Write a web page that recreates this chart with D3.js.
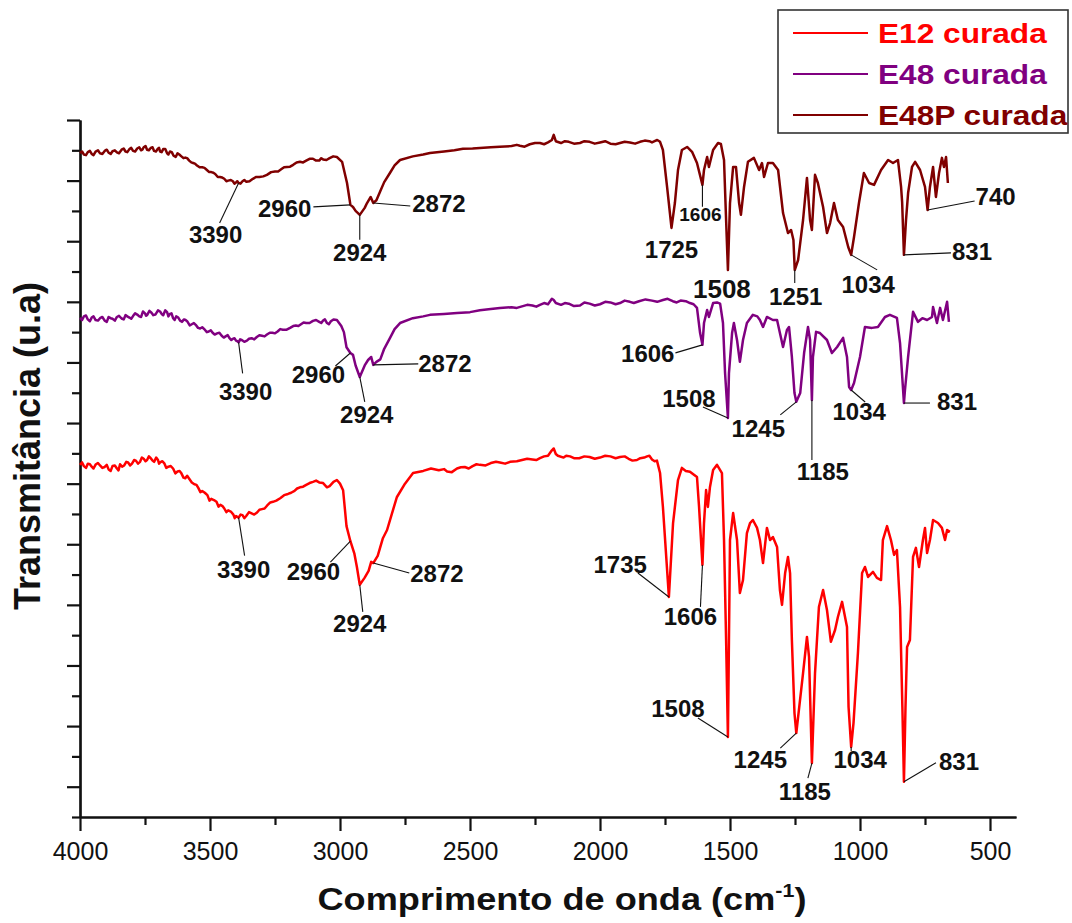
<!DOCTYPE html>
<html>
<head>
<meta charset="utf-8">
<script src="https://cdn.jsdelivr.net/npm/d3@7"></script>
<style>
  body { margin: 0; background: #fff; }
  svg { display: block; }
</style>
</head>
<body>
<svg id="chart" width="1072" height="923"></svg>
<script>
// FTIR spectra of the cured resins: [wavenumber (cm-1), transmittance (u.a)]
const e12 = [
  [4000,11.62],[3985,11.58],[3970,11.66],[3955,11.56],[3940,11.63],[3923,11.60],[3905,11.55],[3890,11.47],
  [3875,11.58],[3858,11.50],[3846,11.64],[3830,11.60],[3815,11.70],[3800,11.66],[3785,11.76],[3769,11.72],
  [3755,11.82],[3742,11.78],[3728,11.84],[3715,11.72],[3700,11.78],[3692,11.70],[3675,11.66],[3660,11.56],
  [3642,11.50],[3625,11.40],[3610,11.34],[3595,11.18],[3580,11.16],[3560,10.98],[3545,10.86],[3530,10.76],
  [3510,10.62],[3495,10.50],[3475,10.40],[3460,10.30],[3445,10.18],[3430,10.12],[3410,9.98],[3400,9.93],
  [3390,9.88],[3375,9.96],[3360,9.94],[3340,10.02],[3319,10.05],[3300,10.16],[3280,10.28],[3258,10.40],
  [3230,10.52],[3200,10.66],[3175,10.76],[3154,10.88],[3130,10.96],[3104,11.06],[3080,11.04],[3065,11.02],
  [3050,10.88],[3040,10.92],[3025,11.06],[3012,11.12],[3000,11.00],[2988,10.78],[2975,9.60],[2960,9.10],
  [2945,8.70],[2935,8.25],[2924,7.66],[2905,7.90],[2890,8.12],[2880,8.42],[2872,8.38],[2855,8.62],
  [2835,9.20],[2819,9.47],[2800,10.02],[2781,10.56],[2750,11.00],[2719,11.35],[2680,11.42],[2650,11.50],
  [2620,11.44],[2588,11.40],[2550,11.50],[2520,11.55],[2490,11.58],[2462,11.62],[2420,11.68],[2385,11.70],
  [2346,11.72],[2300,11.78],[2260,11.80],[2231,11.84],[2200,11.92],[2185,12.10],[2178,12.16],[2170,11.98],
  [2162,11.92],[2140,11.86],[2115,11.90],[2080,11.84],[2040,11.88],[2000,11.86],[1960,11.90],[1923,11.88],
  [1890,11.82],[1858,11.78],[1830,11.86],[1819,11.90],[1800,11.80],[1781,11.76],[1769,11.35],[1758,10.23],
  [1735,7.26],[1719,9.70],[1700,11.12],[1685,11.52],[1670,11.42],[1654,11.39],[1640,11.30],[1627,11.22],
  [1619,10.23],[1606,8.32],[1600,9.70],[1592,10.79],[1585,10.23],[1577,10.89],[1565,11.45],[1550,11.62],
  [1531,11.35],[1523,9.14],[1515,5.84],[1508,2.64],[1504,5.84],[1500,9.14],[1488,10.03],[1473,9.14],
  [1462,7.39],[1450,7.82],[1435,9.37],[1423,9.70],[1412,9.80],[1396,9.54],[1385,9.14],[1373,8.38],
  [1358,9.54],[1346,9.14],[1335,9.24],[1319,8.91],[1308,7.49],[1300,7.00],[1288,8.05],[1277,8.58],
  [1269,8.05],[1262,5.84],[1252,3.43],[1245,2.77],[1219,4.75],[1204,5.94],[1196,5.28],[1185,1.78],
  [1173,4.75],[1158,6.93],[1142,7.49],[1127,6.83],[1112,5.78],[1096,6.17],[1085,6.60],[1069,7.10],
  [1050,6.27],[1044,3.63],[1034,2.31],[1025,3.10],[1008,5.41],[992,8.05],[981,8.25],[969,7.92],
  [950,8.09],[935,7.89],[919,7.82],[912,9.14],[896,9.60],[881,9.14],[869,8.65],[858,8.81],
  [846,6.93],[837,3.63],[831,1.16],[825,3.63],[819,5.61],[808,5.84],[796,8.58],[785,8.88],
  [773,8.25],[758,9.14],[750,9.54],[742,8.71],[731,9.14],[719,9.80],[700,9.70],[685,9.54],
  [673,9.14],[665,9.47],[654,9.41]
];
// finer readings of the noisy O-H / baseline regions
const e12Detail = [
  [3992,11.70],[3977,11.52],[3962,11.64],[3948,11.50],[3931,11.68],[3914,11.52],[3897,11.62],[3882,11.42],
  [3866,11.60],[3852,11.44],[3838,11.56],[3822,11.72],[3807,11.60],[3792,11.78],[3777,11.66],[3762,11.86],
  [3748,11.74],[3735,11.90],[3721,11.76],[3707,11.86],[3696,11.66],[3683,11.74],[3668,11.52],[3651,11.58],
  [3633,11.34],[3617,11.42],[3602,11.20],[3588,11.26],[3570,11.04],[3552,10.96],[3537,10.72],[3520,10.70],
  [3502,10.44],[3485,10.46],[3467,10.24],[3452,10.26],[3437,10.06],[3420,10.08],[3405,9.86],[3382,9.98],
  [3368,9.86],[3350,10.06],[3330,9.98],[3310,10.14],[3290,10.18],[3268,10.38],[3245,10.44],[3215,10.62],
  [3188,10.70],[3165,10.84],[3142,10.90],[3117,11.02],[3092,11.10],
  [2600,11.48],[2570,11.38],[2535,11.54],[2505,11.50],[2475,11.64],[2440,11.60],[2400,11.72],[2365,11.66],
  [2320,11.74],[2280,11.82],[2245,11.78],[2215,11.90],[2130,11.92],[2100,11.84],[2060,11.90],[2020,11.82],
  [1980,11.92],[1940,11.84],[1905,11.90],[1875,11.76],[1845,11.84],[1810,11.92],[1790,11.74]
];

const e48 = [
  [4000,16.47],[3985,16.52],[3970,16.42],[3955,16.48],[3940,16.40],[3923,16.46],[3905,16.38],[3890,16.50],
  [3875,16.44],[3858,16.50],[3840,16.45],[3825,16.56],[3810,16.48],[3796,16.53],[3780,16.58],[3765,16.50],
  [3750,16.62],[3742,16.56],[3725,16.64],[3710,16.58],[3692,16.68],[3680,16.56],[3665,16.66],[3654,16.60],
  [3642,16.46],[3630,16.52],[3615,16.38],[3600,16.42],[3588,16.36],[3570,16.26],[3555,16.24],[3538,16.12],
  [3520,16.08],[3505,16.02],[3490,15.98],[3473,15.96],[3455,15.88],[3440,15.86],[3425,15.80],[3412,15.78],
  [3400,15.72],[3390,15.66],[3378,15.74],[3358,15.72],[3340,15.80],[3320,15.84],[3300,15.88],[3281,15.92],
  [3260,15.98],[3240,16.02],[3220,16.08],[3192,16.14],[3170,16.22],[3150,16.26],[3130,16.30],[3104,16.37],
  [3080,16.34],[3065,16.38],[3050,16.30],[3035,16.36],[3012,16.40],[2995,16.20],[2985,16.00],[2975,15.50],
  [2960,15.31],[2950,15.25],[2940,14.90],[2924,14.52],[2905,14.90],[2892,15.08],[2880,15.18],[2872,14.92],
  [2860,15.02],[2845,15.10],[2830,15.45],[2808,15.80],[2790,16.10],[2769,16.30],[2720,16.46],[2680,16.52],
  [2654,16.57],[2600,16.60],[2550,16.63],[2500,16.66],[2462,16.72],[2420,16.76],[2385,16.80],[2340,16.82],
  [2300,16.85],[2260,16.88],[2231,16.90],[2200,16.92],[2185,17.10],[2178,17.06],[2170,16.96],[2150,16.90],
  [2120,16.94],[2077,16.88],[2040,16.94],[2000,16.92],[1960,16.98],[1923,16.96],[1885,17.00],[1850,17.02],
  [1800,17.04],[1758,17.06],[1720,17.02],[1690,17.04],[1654,16.96],[1640,16.92],[1627,16.80],[1615,15.97],
  [1606,15.58],[1600,16.30],[1588,16.73],[1581,16.50],[1565,16.96],[1550,16.98],[1538,16.94],[1527,16.30],
  [1519,14.65],[1508,13.17],[1504,14.65],[1492,15.97],[1485,16.30],[1473,15.74],[1462,15.02],[1450,15.74],
  [1435,16.30],[1412,16.57],[1395,16.52],[1385,16.40],[1373,16.17],[1358,16.50],[1335,16.40],[1319,16.40],
  [1308,15.97],[1296,15.51],[1281,16.07],[1273,16.17],[1262,15.18],[1252,13.99],[1245,13.70],[1230,13.99],
  [1215,15.31],[1200,16.17],[1192,15.74],[1185,13.76],[1181,15.18],[1169,16.01],[1154,15.97],[1127,15.74],
  [1108,15.31],[1088,15.51],[1065,15.81],[1050,15.18],[1042,14.19],[1034,14.09],[1023,14.32],[1000,15.18],
  [981,16.17],[954,16.14],[931,16.17],[904,16.50],[885,16.57],[858,16.47],[846,15.64],[831,13.66],
  [827,14.09],[815,15.18],[796,16.67],[777,16.34],[760,16.46],[742,16.40],[723,16.50],[719,16.83],
  [704,16.30],[692,16.80],[681,16.40],[665,17.00],[658,16.34]
];
const e48Detail = [
  [3992,16.40],[3977,16.55],[3962,16.36],[3948,16.52],[3931,16.38],[3914,16.50],[3897,16.34],[3882,16.46],
  [3866,16.38],[3850,16.54],[3832,16.42],[3818,16.52],[3803,16.44],[3788,16.62],[3772,16.52],[3758,16.68],
  [3746,16.54],[3733,16.70],[3718,16.56],[3700,16.72],[3686,16.60],[3672,16.72],[3660,16.52],[3648,16.62],
  [3636,16.40],[3622,16.48],[3608,16.34],[3594,16.40],[3578,16.22],[3562,16.30],[3546,16.14],[3530,16.16],
  [3512,16.00],[3497,16.06],[3482,15.92],[3464,15.98],[3447,15.82],[3432,15.90],[3418,15.74],[3406,15.80],
  [3395,15.70],[3384,15.76],[3368,15.68],[3350,15.78],[3330,15.76],[3310,15.90],[3290,15.86],[3270,15.98],
  [3250,15.96],[3230,16.10],[3205,16.08],[3180,16.20],[3160,16.20],[3140,16.32],[3117,16.30],[3092,16.40],
  [3072,16.30],[3058,16.42],[3043,16.26],[3025,16.42],
  [2320,16.80],[2280,16.90],[2245,16.84],[2215,16.96],[2135,16.96],[2100,16.86],[2060,16.98],[2020,16.88],
  [1980,17.00],[1940,16.92],[1905,17.04],[1870,16.96],[1825,17.08],[1780,17.00],[1740,17.10],[1705,16.98],
  [1670,17.02]
];

const e48p = [
  [4000,21.91],[3985,21.86],[3970,21.94],[3955,21.88],[3940,21.96],[3923,21.90],[3905,21.98],[3890,21.92],
  [3875,21.97],[3858,21.93],[3840,22.02],[3825,21.96],[3810,22.04],[3796,21.98],[3780,22.06],[3765,22.00],
  [3755,22.10],[3742,22.02],[3728,22.08],[3715,21.98],[3700,22.06],[3692,21.96],[3680,22.04],[3665,21.90],
  [3654,21.96],[3640,21.82],[3625,21.90],[3610,21.80],[3595,21.76],[3580,21.66],[3565,21.58],[3550,21.50],
  [3530,21.44],[3512,21.35],[3495,21.28],[3480,21.22],[3462,21.12],[3445,21.06],[3430,21.00],[3412,20.98],
  [3400,20.94],[3390,20.92],[3375,20.98],[3360,20.96],[3335,21.06],[3310,21.12],[3281,21.19],[3250,21.30],
  [3225,21.38],[3204,21.45],[3180,21.52],[3154,21.62],[3130,21.66],[3104,21.72],[3080,21.66],[3065,21.70],
  [3040,21.74],[3012,21.78],[2992,21.62],[2973,20.92],[2960,20.20],[2950,20.13],[2940,20.00],[2924,19.87],
  [2905,20.10],[2896,20.26],[2882,20.46],[2872,20.26],[2860,20.35],[2846,20.63],[2830,20.95],[2808,21.25],
  [2790,21.50],[2769,21.68],[2720,21.80],[2680,21.86],[2654,21.91],[2600,21.96],[2560,22.00],[2527,22.05],
  [2490,22.06],[2462,22.08],[2420,22.10],[2385,22.12],[2340,22.14],[2308,22.15],[2270,22.20],[2231,22.24],
  [2200,22.26],[2185,22.34],[2178,22.51],[2170,22.30],[2150,22.24],[2120,22.28],[2077,22.24],[2040,22.28],
  [2000,22.26],[1960,22.22],[1923,22.24],[1885,22.26],[1846,22.28],[1810,22.30],[1790,22.30],[1769,22.28],
  [1758,22.01],[1742,20.79],[1725,19.44],[1712,20.26],[1700,21.35],[1685,22.01],[1665,22.11],[1646,21.95],
  [1627,21.58],[1606,20.86],[1600,21.35],[1588,21.78],[1581,21.45],[1565,22.01],[1546,22.24],[1535,22.21],
  [1523,21.68],[1515,19.70],[1508,18.05],[1500,20.26],[1488,21.45],[1477,21.45],[1465,20.26],[1458,19.87],
  [1446,20.79],[1431,21.62],[1408,21.75],[1388,21.35],[1377,21.58],[1369,21.12],[1354,21.58],[1335,21.58],
  [1315,21.35],[1296,19.93],[1277,19.27],[1265,19.37],[1256,19.04],[1251,18.05],[1238,18.38],[1219,19.70],
  [1204,21.09],[1192,19.70],[1185,19.37],[1173,21.19],[1162,20.92],[1142,20.13],[1127,19.27],[1115,19.60],
  [1100,20.26],[1085,19.70],[1065,19.47],[1045,18.80],[1034,18.55],[1023,19.14],[1004,20.26],[985,21.25],
  [965,20.92],[946,20.86],[919,21.35],[892,21.68],[873,21.58],[854,21.68],[842,20.79],[838,20.30],
  [831,18.55],[823,19.70],[815,20.59],[800,21.45],[788,21.62],[769,21.35],[750,20.79],[740,20.03],
  [731,20.79],[719,21.45],[708,20.46],[696,21.25],[685,21.75],[677,21.45],[669,21.78],[662,20.92]
];
const e48pDetail = [
  [3992,21.96],[3977,21.84],[3962,21.98],[3948,21.84],[3931,22.00],[3914,21.88],[3897,22.02],[3882,21.88],
  [3866,22.00],[3850,21.90],[3832,22.06],[3818,21.94],[3803,22.08],[3788,21.96],[3772,22.10],[3760,22.02],
  [3748,22.14],[3735,22.00],[3721,22.10],[3708,21.96],[3696,22.08],[3686,21.94],[3672,22.04],[3660,21.86],
  [3647,21.94],[3632,21.78],[3618,21.86],[3602,21.74],[3588,21.74],[3572,21.60],[3558,21.56],[3540,21.44],
  [3521,21.42],[3503,21.28],[3487,21.26],[3470,21.12],[3453,21.10],[3437,20.98],[3420,21.02],[3406,20.90],
  [3395,20.98],[3383,20.90],[3368,21.02],[3348,20.98],[3322,21.12],[3295,21.14],[3265,21.28],[3238,21.30],
  [3215,21.44],[3192,21.46],[3167,21.60],[3142,21.60],[3117,21.72],[3092,21.66],[3072,21.74],[3052,21.68],
  [3026,21.80],
  [2320,22.18],[2290,22.12],[2250,22.24],[2215,22.20],[2135,22.30],[2100,22.22],[2060,22.30],[2020,22.22],
  [1980,22.30],[1940,22.20],[1905,22.28],[1865,22.22],[1828,22.32],[1800,22.26],[1780,22.34]
];

// Assigned bands (cm-1) for each spectrum
const e12Peaks  = [3390, 2960, 2924, 2872, 1735, 1606, 1508, 1245, 1185, 1034, 831];
const e48Peaks  = [3390, 2960, 2924, 2872, 1606, 1508, 1245, 1185, 1034, 831];
const e48pPeaks = [3390, 2960, 2924, 2872, 1725, 1606, 1508, 1251, 1034, 831, 740];

const seriesNames = ["E12 curada", "E48 curada", "E48P curada"];
const xMajorTicks = [4000, 3500, 3000, 2500, 2000, 1500, 1000, 500];
const xMinorTicks = [3750, 3250, 2750, 2250, 1750, 1250, 750];

// ---- layout ----
const colors = ["#ff0000", "#800080", "#800000"];
const FONT = "'Liberation Sans', Arial, Helvetica, sans-serif";

// Callout placement: [line dx, line dy, text dx, text dy, anchor, font size] relative to the band minimum
const callouts = {
  e12: {
    3390: [6, 38, 5, 60, "middle"], 2960: [-20, 21, -37, 39, "middle"], 2924: [3, 27, 0, 47, "middle"],
    2872: [36, 10, 37, 19, "start"], 1735: [-31, -24, -22, -24, "end"], 1606: [-2, 42, -12, 60, "middle"],
    1508: [-30, -19, -50, -20, "middle"], 1245: [-16, 15, -36, 35, "middle"], 1185: [-4, 15, -7, 37, "middle"],
    1034: [0, 4, 9, 21, "middle"], 831: [32, -19, 35, -12, "start"]
  },
  e48: {
    3390: [4, 31, 7, 58, "middle"], 2960: [-15, 13, -32, 30, "middle"], 2924: [5, 25, 7, 46, "middle"],
    2872: [45, -1, 45, 7, "start"], 1606: [-27, 8, -28, 17, "end"], 1508: [-25, -11, -39, -11, "middle"],
    1245: [-16, 13, -38, 35, "middle"], 1185: [0, 60, 11, 80, "middle"], 1034: [14, 12, 8, 30, "middle"],
    831: [26, 0, 33, 7, "start"]
  },
  e48p: {
    3390: [-19, 40, -23, 60, "middle"], 2960: [-37, 2, -39, 12, "end"], 2924: [0, 25, 0, 46, "middle"],
    2872: [37, 3, 39, 9, "start"], 1725: [null, null, 0, 30, "middle"], 1606: [0, 22, -2, 36, "middle", 19],
    1508: [null, null, -6, 28, "middle", 26], 1251: [0, 13, 1, 35, "middle"], 1034: [26, 15, 17, 38, "middle"],
    831: [47, -2, 48, 5, "start"], 740: [47, -9, 48, -5, "start"]
  }
};

const svg = d3.select("#chart");

const x = d3.scaleLinear().domain([4000, 400]).range([80, 1016]);
const y = d3.scaleLinear().domain([0, 23]).range([817, 120]);

// ---- axes ----
const axisStyle = g => {
  g.selectAll("path.domain").attr("stroke", "#111").attr("stroke-width", 2.2);
  g.selectAll(".tick line").attr("stroke", "#111").attr("stroke-width", 2.2);
};

svg.append("g")
  .attr("transform", "translate(0,817)")
  .call(d3.axisBottom(x).tickValues(xMinorTicks).tickSize(8).tickSizeOuter(0).tickFormat(""))
  .call(axisStyle);

svg.append("g")
  .attr("transform", "translate(0,817)")
  .call(d3.axisBottom(x).tickValues(xMajorTicks).tickSize(14).tickSizeOuter(0).tickPadding(11).tickFormat(d3.format("d")))
  .call(axisStyle)
  .call(g => g.selectAll(".tick text")
    .attr("font-family", FONT).attr("font-size", 25).attr("fill", "#111"));

const yMajor = d3.range(1, 24, 2);
const yMinor = d3.range(0, 23, 2);

svg.append("g")
  .attr("transform", "translate(80,0)")
  .call(d3.axisLeft(y).tickValues(yMinor).tickSize(8).tickSizeOuter(0).tickFormat(""))
  .call(axisStyle);

svg.append("g")
  .attr("transform", "translate(80,0)")
  .call(d3.axisLeft(y).tickValues(yMajor).tickSize(13).tickSizeOuter(0).tickFormat(""))
  .call(axisStyle);

// ---- axis titles ----
const xTitle = svg.append("text")
  .attr("transform", "translate(562,910) scale(1.13,1)")
  .attr("text-anchor", "middle")
  .attr("font-family", FONT).attr("font-weight", "bold").attr("font-size", 32)
  .attr("fill", "#111");
xTitle.append("tspan").text("Comprimento de onda (cm");
xTitle.append("tspan").attr("font-size", 19).attr("dy", -13).text("-1");
xTitle.append("tspan").attr("dy", 13).text(")");

svg.append("text")
  .attr("transform", "translate(40,446) rotate(-90)")
  .attr("text-anchor", "middle")
  .attr("font-family", FONT).attr("font-weight", "bold").attr("font-size", 36)
  .attr("fill", "#111")
  .text("Transmitância (u.a)");

// ---- spectra ----
const byWavenumber = (a, b) => b[0] - a[0];
const spectra = [
  e12.concat(e12Detail).sort(byWavenumber),
  e48.concat(e48Detail).sort(byWavenumber),
  e48p.concat(e48pDetail).sort(byWavenumber)
];
const line = d3.line().x(d => x(d[0])).y(d => y(d[1])).curve(d3.curveLinear);

spectra.forEach((data, i) => {
  svg.append("path")
    .datum(data)
    .attr("fill", "none")
    .attr("stroke", colors[i])
    .attr("stroke-width", 2.5)
    .attr("stroke-linejoin", "round")
    .attr("d", line);
});

// ---- band callouts ----
const peakSets = [["e12", spectra[0], e12Peaks], ["e48", spectra[1], e48Peaks], ["e48p", spectra[2], e48pPeaks]];
const labels = svg.append("g");

peakSets.forEach(([key, data, peaks]) => {
  peaks.forEach(wn => {
    const pt = data.find(d => d[0] === wn);
    const px = x(pt[0]), py = y(pt[1]);
    const [ldx, ldy, tdx, tdy, anchor, size] = callouts[key][wn];
    if (ldx !== null) {
      labels.append("line")
        .attr("x1", px).attr("y1", py)
        .attr("x2", px + ldx).attr("y2", py + ldy)
        .attr("stroke", "#111").attr("stroke-width", 1.1);
    }
    labels.append("text")
      .attr("x", px + tdx).attr("y", py + tdy)
      .attr("text-anchor", anchor)
      .attr("font-family", FONT).attr("font-weight", "bold")
      .attr("font-size", size || 24)
      .attr("fill", "#111")
      .text(String(wn));
  });
});

// ---- legend ----
const legend = svg.append("g");
legend.append("rect")
  .attr("x", 778).attr("y", 10).attr("width", 290).attr("height", 123)
  .attr("fill", "#fff").attr("stroke", "#333").attr("stroke-width", 1.6);

seriesNames.forEach((name, i) => {
  const rowY = 33 + i * 41;
  legend.append("line")
    .attr("x1", 793).attr("x2", 868)
    .attr("y1", rowY).attr("y2", rowY)
    .attr("stroke", colors[i]).attr("stroke-width", 2.2);
  legend.append("text")
    .attr("transform", `translate(878,${rowY + 10}) scale(1.13,1)`)
    .attr("font-family", FONT).attr("font-weight", "bold").attr("font-size", 28)
    .attr("fill", colors[i])
    .text(name);
});
</script>
</body>
</html>
